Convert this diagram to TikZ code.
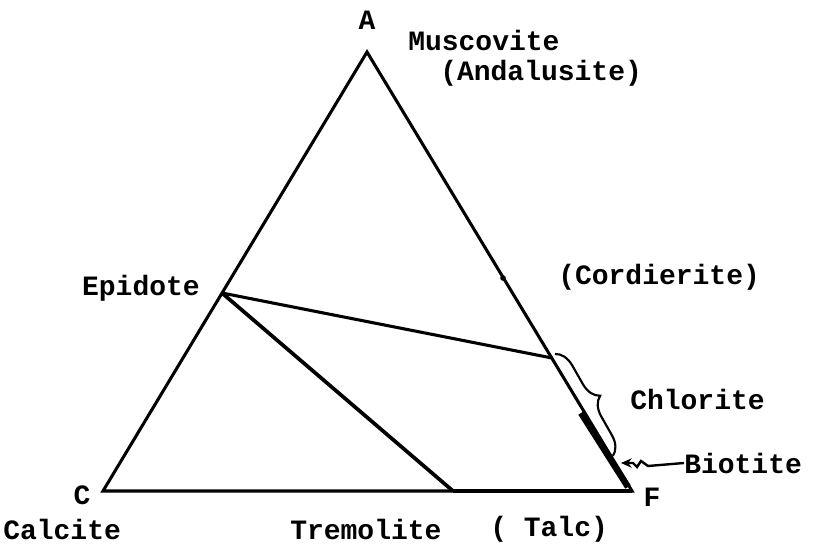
\documentclass[tikz,border=0pt]{standalone}
\usepackage{fontspec}
\setmonofont{Liberation Mono}
\usetikzlibrary{decorations.pathreplacing,arrows.meta}
\tikzset{
  lbl/.style={font=\ttfamily\bfseries\fontsize{21}{25}\selectfont,inner sep=0pt},
  side/.style={line width=2.3pt},
}
\begin{document}
\begin{tikzpicture}[x=0.75pt,y=-0.75pt]
\useasboundingbox (0,0) rectangle (813,548);
% corners and tie points
\coordinate (A) at (367,52);
\coordinate (C) at (103,491);
\coordinate (F) at (632,491);
\coordinate (Ep) at (222,293);
\coordinate (Tr) at (453,491);
\coordinate (Ch) at (552,358);
\coordinate (Cd) at (503,278);
\draw[side] (C)--(A)--(F)--cycle;
\draw[side] (Ep)--(Ch);
\draw[line width=2.8pt] (Ep)--(Tr);
\draw[line width=2.8pt] (Tr)--(F);
\fill (Cd) circle (2.8);
% biotite bar
\draw[line width=4.8pt] (581,413)--(628,487);
% labels
\node[lbl] (lA) at (367,20) {A};
\node[lbl,anchor=west] (lMu) at (408,40) {Muscovite};
\node[lbl,anchor=west] (lAn) at (440,73) {(Andalusite)};
\node[lbl,anchor=west] (lCd) at (558,277) {(Cordierite)};
\node[lbl,anchor=east] (lEp) at (200,288) {Epidote};
\node[lbl,anchor=west] (lCh) at (630,399) {Chlorite};
\node[lbl,anchor=west] (lBt) at (684,463) {Biotite};
\node[lbl] (lC) at (82,495) {C};
\node[lbl] (lF) at (652,497) {F};
\node[lbl,anchor=west] (lCa) at (3,529) {Calcite};
\node[lbl,anchor=west] (lTr) at (290,529) {Tremolite};
\node[lbl,anchor=west] (lTa) at (490,529) {( Talc)};
% chlorite brace
\coordinate (chtop) at (555,354);
\coordinate (chbot) at (613,456);
\draw[line width=1.6pt,decorate,decoration={brace,amplitude=14pt}] (chtop)--(chbot);
% biotite pointer
\coordinate (bt) at (621,463);
\draw[line width=1.8pt,-{Stealth[length=8pt,width=7pt]}]
  (lBt.west)--(648,466)--(641,461)--(637,467)--(633,463)--(bt);
\end{tikzpicture}
\end{document}
